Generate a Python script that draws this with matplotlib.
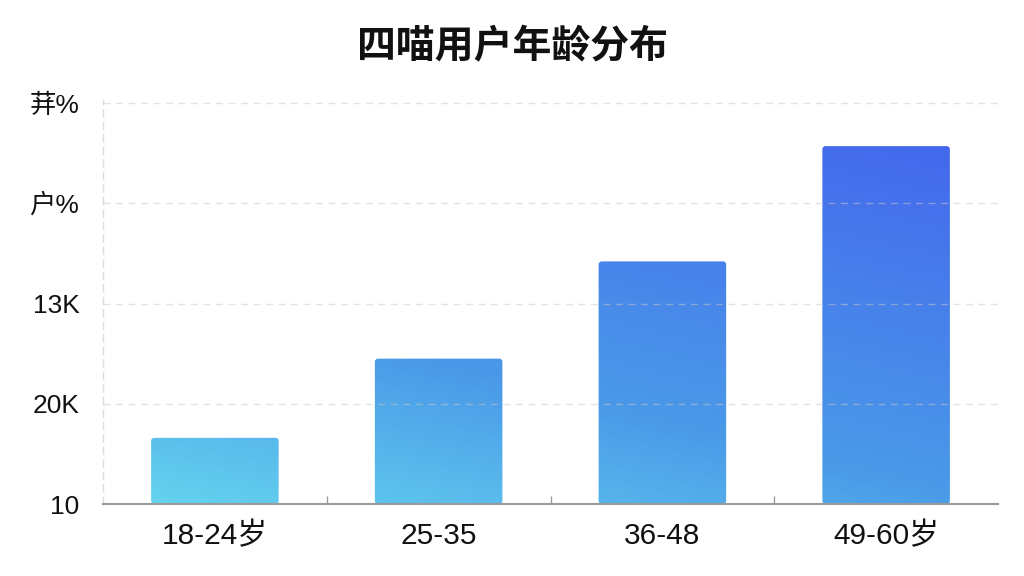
import numpy as np
import matplotlib.pyplot as plt
from matplotlib.colors import LinearSegmentedColormap
from matplotlib.patches import FancyBboxPatch

plt.rcParams['font.family'] = ['Liberation Sans', 'Noto Sans CJK SC', 'DejaVu Sans']

# chart data
title = '四喵用户年龄分布'
categories = ['18-24岁', '25-35', '36-48', '49-60岁']
values = [0.66, 1.45, 2.42, 3.57]
ytick_pos = [0, 1, 2, 3, 4]
ytick_labels = ['10', '20K', '13K', '户%', '荓%']

fig = plt.figure(figsize=(10.24, 5.76), dpi=100)
ax = fig.add_axes([103 / 1024, 72 / 576, 895 / 1024, 404 / 576])

ymax = 4.03
x = np.arange(len(categories))
bar_w = 0.57

# diagonal gradient across the plot area, clipped by each bar
cmap = LinearSegmentedColormap.from_list(
    'bars', [(0.0, '#66d6ef'), (0.35, '#4a9ae8'), (1.0, '#4360ee')])
gx, gy = np.meshgrid(np.linspace(0, 1, 300), np.linspace(0, 1, 300))
grad = 0.35 * gx + 0.65 * gy

for xi, v in zip(x, values):
    box = FancyBboxPatch((xi - bar_w / 2, 0), bar_w, v,
                         boxstyle='round,pad=0,rounding_size=0.014',
                         mutation_aspect=2.23, facecolor='none',
                         edgecolor='none', zorder=2)
    ax.add_patch(box)
    im = ax.imshow(grad, cmap=cmap, vmin=0, vmax=1, origin='lower',
                   extent=(-0.5, len(categories) - 0.5, 0, ymax),
                   aspect='auto', interpolation='bilinear', zorder=2)
    im.set_clip_path(box)

ax.set_xlim(-0.5, len(categories) - 0.5)
ax.set_ylim(0, ymax)

# grid
for yp in ytick_pos[1:]:
    ax.axhline(yp, color='#c8c8c8', lw=1, ls=(0, (5, 4)), alpha=0.5, zorder=3)

ax.set_yticks(ytick_pos)
ax.set_yticklabels(ytick_labels, fontsize=19, color='#111111')
ax.set_xticks(x)
ax.set_xticklabels(categories, fontsize=21.5, color='#111111')
ax.set_xticks(x[:-1] + 0.5, minor=True)
ax.tick_params(axis='y', length=0, pad=17)
ax.tick_params(axis='x', which='major', length=0, pad=13)
ax.tick_params(axis='x', which='minor', length=6, direction='in',
               color='#999999', width=1)

for s in ['top', 'right']:
    ax.spines[s].set_visible(False)
ax.spines['left'].set_color('#dddddd')
ax.spines['left'].set_linestyle((0, (5, 4)))
ax.spines['left'].set_linewidth(1)
ax.spines['bottom'].set_color('#999999')
ax.spines['bottom'].set_linewidth(1.5)
ax.spines['bottom'].set_zorder(4)

fig.suptitle(title, y=1 - 47 / 576, va='center', fontsize=28,
             fontweight='bold', color='#111111',
             family=['Noto Sans CJK SC', 'DejaVu Sans'])

fig.savefig('out.png', dpi=100, facecolor='white')
